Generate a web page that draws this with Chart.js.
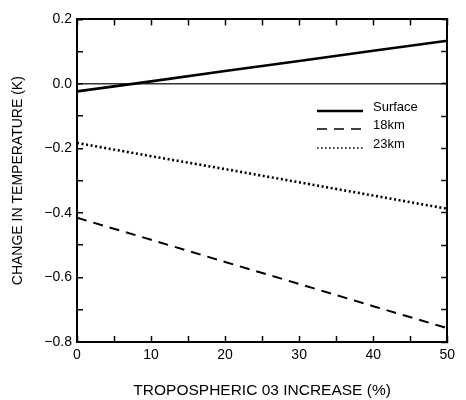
<!DOCTYPE html>
<html>
<head>
<meta charset="utf-8">
<script src="https://cdn.jsdelivr.net/npm/chart.js@4/dist/chart.umd.min.js"></script>
<style>
html,body{margin:0;padding:0;background:#fff;}
#wrap{width:466px;height:400px;}
</style>
</head>
<body>
<div id="wrap"><canvas id="c" width="466" height="400"></canvas></div>
<script>
const xValues = [0, 10, 20, 30, 40, 50];
const surface = [-0.023, 0.008, 0.040, 0.071, 0.103, 0.134];
const km18 = [-0.415, -0.483, -0.552, -0.620, -0.689, -0.757];
const km23 = [-0.183, -0.224, -0.264, -0.305, -0.346, -0.387];
const seriesLabels = ['Surface', '18km', '23km'];
const xTitle = 'TROPOSPHERIC 03 INCREASE (%)';
const yTitle = 'CHANGE IN TEMPERATURE (K)';

const toPts = arr => xValues.map((x, i) => ({x: x, y: arr[i]}));
const FONT = "'Liberation Sans', Arial, sans-serif";

const legendPlugin = {
  id: 'inlineLegend',
  afterDraw(chart) {
    const ctx = chart.ctx;
    const items = [
      {label: seriesLabels[0], y: 111, dash: [], w: 2.5},
      {label: seriesLabels[1], y: 129, dash: [10, 7], w: 1.6},
      {label: seriesLabels[2], y: 148, dash: [1.6, 2.4], w: 1.6}
    ];
    ctx.save();
    items.forEach(it => {
      ctx.beginPath();
      ctx.setLineDash(it.dash);
      ctx.lineWidth = it.w;
      ctx.strokeStyle = '#000';
      ctx.moveTo(317, it.y);
      ctx.lineTo(363, it.y);
      ctx.stroke();
      ctx.setLineDash([]);
      ctx.fillStyle = '#000';
      ctx.font = '13px ' + FONT;
      ctx.textBaseline = 'middle';
      ctx.textAlign = 'left';
      ctx.fillText(it.label, 373, it.y - 4);
    });
    ctx.restore();
  }
};

const tickFmt = v => {
  const r = Math.round(v * 10);
  if (r % 2 !== 0) return '';
  const s = Math.abs(v).toFixed(1);
  return (r < 0 ? '\u2212' : '') + s;
};

new Chart(document.getElementById('c'), {
  type: 'line',
  data: {
    datasets: [
      {label: seriesLabels[0], data: toPts(surface), borderColor: '#000', borderWidth: 2.6, pointRadius: 0, tension: 0, fill: false},
      {label: seriesLabels[1], data: toPts(km18), borderColor: '#000', borderWidth: 2, borderDash: [10, 7], pointRadius: 0, tension: 0, fill: false},
      {label: seriesLabels[2], data: toPts(km23), borderColor: '#000', borderWidth: 2.6, borderDash: [2, 2.6], pointRadius: 0, tension: 0, fill: false}
    ]
  },
  options: {
    responsive: false,
    animation: false,
    layout: {padding: {left: 0, right: 9, top: 15, bottom: 0}},
    plugins: {legend: {display: false}, tooltip: {enabled: false}},
    scales: {
      x: {
        type: 'linear', position: 'bottom', min: 0, max: 50,
        border: {display: true, color: '#000', width: 2},
        grid: {drawOnChartArea: false, drawTicks: true, tickLength: -6, tickColor: '#000', tickWidth: 1.5},
        ticks: {stepSize: 5, color: '#000', font: {family: FONT, size: 14}, padding: 11, maxRotation: 0,
          callback: v => (v % 10 === 0 ? String(v) : '')},
        title: {display: true, text: xTitle, color: '#000', font: {family: FONT, size: 15.5}, padding: {top: 0, bottom: 0}},
        afterFit: s => { s.height = 58; }
      },
      x2: {
        type: 'linear', position: 'top', min: 0, max: 50,
        border: {display: true, color: '#000', width: 2},
        grid: {drawOnChartArea: false, drawTicks: true, tickLength: -6, tickColor: '#000', tickWidth: 1.5},
        ticks: {stepSize: 5, display: false},
        afterFit: s => { s.height = 0; }
      },
      y: {
        type: 'linear', position: 'left', min: -0.8, max: 0.2,
        border: {display: true, color: '#000', width: 2},
        grid: {drawOnChartArea: true, drawTicks: true, tickLength: -6, tickWidth: 1.5, lineWidth: 1.5,
          color: c => (c.tick && Math.abs(c.tick.value) < 1e-9 ? '#333' : 'rgba(0,0,0,0)'),
          tickColor: '#000'},
        ticks: {stepSize: 0.1, color: '#000', font: {family: FONT, size: 14}, padding: 11, callback: tickFmt},
        title: {display: true, text: yTitle, color: '#000', font: {family: FONT, size: 14}, padding: {top: 10, bottom: 0}},
        afterFit: s => { s.width = 77; }
      },
      y2: {
        type: 'linear', position: 'right', min: -0.8, max: 0.2,
        border: {display: true, color: '#000', width: 2},
        grid: {drawOnChartArea: false, drawTicks: true, tickLength: -6, tickColor: '#000', tickWidth: 1.5},
        ticks: {stepSize: 0.1, display: false},
        afterFit: s => { s.width = 0; }
      }
    }
  },
  plugins: [legendPlugin]
});
</script>
</body>
</html>
